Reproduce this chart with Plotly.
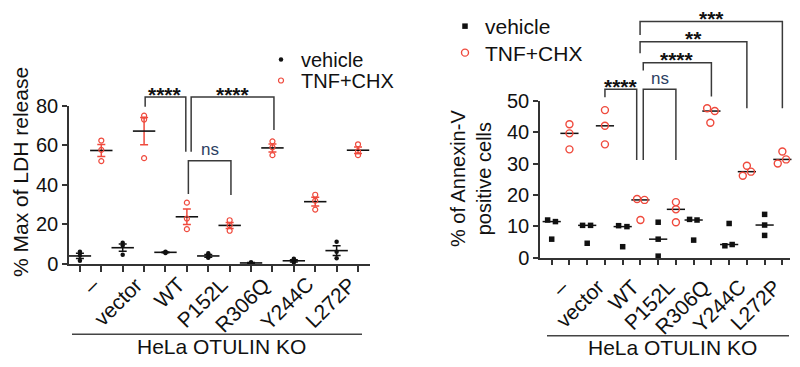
import numpy as np
import plotly.graph_objects as go

# ---------------- data ----------------
categories = ["–", "vector", "WT", "P152L", "R306Q", "Y244C", "L272P"]

# Left panel: % Max of LDH release, 3 replicates per group
ldh_vehicle = [[6.2, 4.3, 1.7], [10.7, 9.3, 4.7], [6.2, 5.9, 5.6], [5.4, 3.6, 3.2],
               [0.3, 0.9, 0.4], [2.7, 1.4, 0.8], [11.2, 6.2, 2.9]]
ldh_tnf = [[62.4, 57.7, 52.0], [75.0, 73.0, 53.5], [31.0, 23.0, 17.6], [22.1, 19.6, 16.8],
           [62.0, 59.0, 55.0], [35.0, 32.0, 27.5], [60.5, 57.0, 55.0]]

# Right panel: % of Annexin-V positive cells, 3 replicates per group
annex_vehicle = [[12.0, 11.5, 5.9], [10.3, 10.3, 4.6], [10.2, 9.9, 3.5], [11.3, 5.9, 0.5],
                 [12.2, 12.0, 5.6], [3.8, 4.2, 10.9], [13.8, 10.4, 7.1]]
annex_tnf = [[42.5, 39.6, 34.5], [47.0, 42.0, 36.1], [18.7, 18.4, 12.0], [17.7, 15.4, 11.3],
             [47.6, 46.7, 43.0], [26.1, 29.3, 27.4], [30.0, 33.8, 31.3]]

# horizontal scatter offsets of the replicate dots (in slot units)
annex_vehicle_jitter = [[-0.23, 0.21, 0], [-0.26, 0.19, 0], [-0.23, 0.24, 0], [0, 0, 0],
                        [-0.23, 0.19, 0], [-0.24, 0.17, 0], [0, 0, 0]]
annex_tnf_jitter = [[0, 0, 0], [0, 0, 0], [-0.19, 0.23, 0], [0, 0, 0],
                    [-0.24, 0.19, -0.06], [-0.23, 0, 0.23], [-0.26, 0, 0.21]]

ldh_ticks = [0, 20, 40, 60, 80]
annex_ticks = [0, 10, 20, 30, 40, 50]

# significance brackets: (left x, right x, bar level, left leg end, right leg end, label)
left_brackets = [
    (3.05, 4.95, 84.4, 79.5, 56.7, "****"),
    (5.2, 9.07, 84.4, 56.7, 67.7, "****"),
    (5.07, 7.06, 52.2, 35.4, 34.9, "ns"),
]
right_brackets = [
    (3.0, 4.79, 53.6, 51.1, 31.1, "****"),
    (5.16, 7.0, 53.6, 31.1, 31.1, "ns"),
    (5.16, 9.0, 62.1, 59.6, 51.3, "****"),
    (4.98, 11.0, 68.8, 65.1, 47.6, "**"),
    (4.98, 13.0, 75.2, 70.9, 47.6, "***"),
]

# ---------------- style ----------------
FONT = "Liberation Sans, Arial, sans-serif"
RED = "#ef4a3d"
BLACK = "#111111"
AX = "#333333"
W, H = 800, 367

def px_x(p):
    return p / W

def px_y(p):
    return 1 - p / H

fig = go.Figure()

n = len(categories)
veh_slots = [2 * i for i in range(n)]
tnf_slots = [2 * i + 1 for i in range(n)]

# ---- left panel: mean +/- SEM ----
for i in range(n):
    for slot, vals, col in ((veh_slots[i], ldh_vehicle[i], BLACK), (tnf_slots[i], ldh_tnf[i], RED)):
        a = np.array(vals)
        m = a.mean()
        sem = a.std(ddof=1) / np.sqrt(len(a))
        fig.add_trace(go.Scatter(
            x=[slot], y=[m], mode="markers", xaxis="x", yaxis="y",
            marker=dict(symbol="line-ew", size=16, line=dict(color=BLACK, width=1.6)),
            error_y=dict(type="data", array=[sem], color=col, thickness=1.5, width=4),
            showlegend=False, hoverinfo="skip", cliponaxis=False))

for i in range(n):
    fig.add_trace(go.Scatter(
        x=[veh_slots[i]] * 3, y=ldh_vehicle[i], mode="markers", xaxis="x", yaxis="y",
        marker=dict(symbol="circle", size=4.5, color=BLACK),
        name="vehicle", legend="legend", showlegend=(i == 0), cliponaxis=False))
    fig.add_trace(go.Scatter(
        x=[tnf_slots[i]] * 3, y=ldh_tnf[i], mode="markers", xaxis="x", yaxis="y",
        marker=dict(symbol="circle-open", size=5, color=RED, line=dict(width=1.2)),
        name="TNF+CHX", legend="legend3", showlegend=(i == 0), cliponaxis=False))

# ---- right panel: dots + median ----
for i in range(n):
    fig.add_trace(go.Scatter(
        x=[veh_slots[i]], y=[float(np.median(annex_vehicle[i]))], mode="markers",
        xaxis="x2", yaxis="y2",
        marker=dict(symbol="line-ew", size=13, line=dict(color=BLACK, width=1.5)),
        showlegend=False, hoverinfo="skip", cliponaxis=False))
    fig.add_trace(go.Scatter(
        x=[tnf_slots[i]], y=[float(np.median(annex_tnf[i]))], mode="markers",
        xaxis="x2", yaxis="y2",
        marker=dict(symbol="line-ew", size=13, line=dict(color=BLACK, width=1.5)),
        showlegend=False, hoverinfo="skip", cliponaxis=False))

for i in range(n):
    fig.add_trace(go.Scatter(
        x=[veh_slots[i] + j for j in annex_vehicle_jitter[i]], y=annex_vehicle[i],
        mode="markers", xaxis="x2", yaxis="y2",
        marker=dict(symbol="square", size=5.5, color=BLACK),
        name="vehicle", legend="legend2", showlegend=(i == 0), cliponaxis=False))
    fig.add_trace(go.Scatter(
        x=[tnf_slots[i] + j for j in annex_tnf_jitter[i]], y=annex_tnf[i],
        mode="markers", xaxis="x2", yaxis="y2",
        marker=dict(symbol="circle-open", size=7, color=RED, line=dict(width=1.4)),
        name="TNF+CHX", legend="legend4", showlegend=(i == 0), cliponaxis=False))

# ---- brackets ----
annotations = []

def add_brackets(brs, xa, ya, xref, yref):
    for (x1, x2, top, yl, yr, lab) in brs:
        fig.add_trace(go.Scatter(
            x=[x1, x1, x2, x2], y=[yl, top, top, yr], mode="lines", xaxis=xa, yaxis=ya,
            line=dict(color="#3a3a3a", width=1.5), showlegend=False, hoverinfo="skip"))
        if lab == "ns":
            annotations.append(dict(x=(x1 + x2) / 2, y=top, xref=xref, yref=yref, text="ns",
                                    showarrow=False, yanchor="middle", yshift=11,
                                    font=dict(family=FONT, size=17, color="#2e3f63")))
        else:
            annotations.append(dict(x=(x1 + x2) / 2, y=top, xref=xref, yref=yref,
                                    text="<b>%s</b>" % lab,
                                    showarrow=False, yanchor="middle", yshift=3,
                                    font=dict(family=FONT, size=21, color=BLACK)))

add_brackets(left_brackets, "x3", "y3", "x3", "y3")
add_brackets(right_brackets, "x4", "y4", "x4", "y4")

# ---- rotated category labels (top-right corner of the rotated box near each tick) ----
for xref, ypx, dx in (("x", 270, 5), ("x2", 272, 6)):
    for i, lab in enumerate(categories):
        annotations.append(dict(x=tnf_slots[i], y=px_y(ypx), xref=xref, yref="paper",
                                text=lab, textangle=-45, showarrow=False,
                                xanchor="right", yanchor="top", xshift=dx,
                                font=dict(family=FONT, size=21, color=BLACK)))

# ---- text annotations ----
annotations += [
    dict(x=px_x(20), y=px_y(172), xref="paper", yref="paper", text="% Max of LDH release",
         textangle=-90, showarrow=False, xanchor="center", yanchor="middle",
         font=dict(family=FONT, size=21, color=BLACK)),
    dict(x=px_x(471), y=px_y(179), xref="paper", yref="paper",
         text="% of Annexin-V<br>positive cells",
         textangle=-90, showarrow=False, xanchor="center", yanchor="middle",
         font=dict(family=FONT, size=20, color=BLACK)),
    dict(x=px_x(221.5), y=px_y(346), xref="paper", yref="paper", text="HeLa OTULIN KO",
         showarrow=False, xanchor="center", yanchor="middle",
         font=dict(family=FONT, size=21, color=BLACK)),
    dict(x=px_x(672.5), y=px_y(347), xref="paper", yref="paper", text="HeLa OTULIN KO",
         showarrow=False, xanchor="center", yanchor="middle",
         font=dict(family=FONT, size=21, color=BLACK)),
]

shapes = [
    dict(type="line", xref="paper", yref="paper", x0=px_x(72), x1=px_x(362),
         y0=px_y(334.3), y1=px_y(334.3), line=dict(color="#444", width=1.5)),
    dict(type="line", xref="paper", yref="paper", x0=px_x(547), x1=px_x(789),
         y0=px_y(335.7), y1=px_y(335.7), line=dict(color="#444", width=1.5)),
]

def xax(domain, rng, anchor):
    return dict(domain=domain, range=rng, anchor=anchor, showline=True, linecolor=AX,
                linewidth=1.5, tickvals=tnf_slots, showticklabels=False, ticks="outside",
                ticklen=6, tickwidth=1.5, tickcolor=AX, automargin=False,
                minor=dict(tickvals=veh_slots, ticks="outside", ticklen=6, tickwidth=1.5,
                           tickcolor=AX),
                showgrid=False, zeroline=False)

def yax(domain, rng, anchor, tv):
    return dict(domain=domain, range=rng, anchor=anchor, showline=True, linecolor=AX,
                linewidth=1.5, tickvals=tv, ticks="outside", ticklen=5, tickwidth=1.5,
                tickcolor=AX, showgrid=False, zeroline=False, automargin=False,
                tickfont=dict(family=FONT, size=20, color=BLACK))

def leg(xpx, ypx, size):
    return dict(x=px_x(xpx), y=px_y(ypx), xanchor="left", yanchor="top",
                bgcolor="rgba(0,0,0,0)", font=dict(family=FONT, size=size, color=BLACK),
                itemwidth=30, tracegroupgap=0)

L_xdom = [px_x(69), px_x(370)]
L_bot, L_top, L_ext = px_y(264), px_y(105.7), px_y(89.9)
R_xdom = [px_x(540), px_x(790)]
R_bot, R_top, R_ext = px_y(257.7), px_y(100.7), px_y(14)
L_xr = [-0.51, 13.56]
R_xr = [-0.66, 13.43]

fig.update_layout(
    width=W, height=H, margin=dict(l=0, r=0, t=0, b=0, autoexpand=False),
    paper_bgcolor="white", plot_bgcolor="rgba(0,0,0,0)",
    font=dict(family=FONT, color=BLACK),
    xaxis=xax(L_xdom, L_xr, "y"),
    yaxis=yax([L_bot, L_top], [0, 80], "x", ldh_ticks),
    xaxis2=xax(R_xdom, R_xr, "y2"),
    yaxis2=yax([R_bot, R_top], [0, 50], "x2", annex_ticks),
    xaxis3=dict(domain=L_xdom, range=L_xr, anchor="y3", visible=False),
    yaxis3=dict(domain=[L_bot, L_ext], range=[0, 88], anchor="x3", visible=False),
    xaxis4=dict(domain=R_xdom, range=R_xr, anchor="y4", visible=False),
    yaxis4=dict(domain=[R_bot, R_ext], range=[0, 77.6], anchor="x4", visible=False),
    legend=leg(261, 40, 20),
    legend3=leg(261, 61, 20),
    legend2=leg(445, 6, 21),
    legend4=leg(445, 32.5, 21),
    annotations=annotations,
    shapes=shapes,
)

fig.write_html("out.html")
